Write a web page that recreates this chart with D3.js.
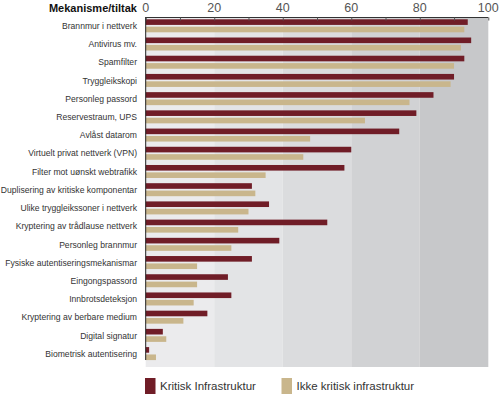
<!DOCTYPE html>
<html>
<head>
<meta charset="utf-8">
<script src="https://cdn.jsdelivr.net/npm/d3@7"></script>
<style>
  body { margin: 0; background: #fff; }
  text { font-family: "Liberation Sans", Arial, sans-serif; }
</style>
</head>
<body>
<svg id="chart" width="500" height="395"></svg>
<script>
var categories = ["Brannmur i nettverk", "Antivirus mv.", "Spamfilter", "Tryggleikskopi",
    "Personleg passord", "Reservestraum, UPS", "Avlåst datarom", "Virtuelt privat nettverk (VPN)",
    "Filter mot uønskt webtrafikk", "Duplisering av kritiske komponentar", "Ulike tryggleikssoner i nettverk",
    "Kryptering av trådlause nettverk", "Personleg brannmur", "Fysiske autentiseringsmekanismar",
    "Eingongspassord", "Innbrotsdeteksjon", "Kryptering av berbare medium", "Digital signatur",
    "Biometrisk autentisering"];
var kritisk = [94, 95, 93, 90, 84, 79, 74, 60, 58, 31, 36, 53, 39, 31, 24, 25, 18, 5, 1];
var ikkeKritisk = [93, 92, 90, 89, 77, 64, 48, 46, 35, 32, 30, 27, 25, 15, 15, 14, 11, 6, 3];
var seriesNames = ["Kritisk Infrastruktur", "Ikke kritisk infrastruktur"];
var tickValues = [0, 20, 40, 60, 80, 100];

var colours = ["#701d27", "#c9b68c"];
var bandColours = ["#ebebed", "#e3e4e6", "#dbdcde", "#d1d2d4", "#c7c8ca"];

var svg = d3.select("#chart");

var x = d3.scaleLinear().domain([0, 100]).range([145.7, 488.3]);

var y0 = d3.scaleBand()
    .domain(categories)
    .range([17.5, 363.5]);

var y1 = d3.scaleBand()
    .domain([0, 1])
    .range([1.8, 14.8])
    .paddingInner(0.24);

var data = categories.map(function(c, i) {
    return { name: c, values: [kritisk[i], ikkeKritisk[i]] };
});

// background bands every 20
svg.append("g")
    .selectAll("rect")
    .data(d3.range(0, 100, 20))
    .enter().append("rect")
    .attr("x", function(d) { return x(d); })
    .attr("y", 17)
    .attr("width", function(d) { return x(d + 20) - x(d); })
    .attr("height", 350)
    .attr("fill", function(d, i) { return bandColours[i]; });

// bars
var groups = svg.append("g")
    .selectAll("g")
    .data(data)
    .enter().append("g")
    .attr("transform", function(d) { return "translate(0," + y0(d.name) + ")"; });

groups.selectAll("rect")
    .data(function(d) { return d.values; })
    .enter().append("rect")
    .attr("x", x(0))
    .attr("y", function(d, i) { return y1(i); })
    .attr("width", function(d) { return x(d) - x(0); })
    .attr("height", y1.bandwidth())
    .attr("fill", function(d, i) { return colours[i]; });

// category labels
svg.append("g")
    .selectAll("text")
    .data(categories)
    .enter().append("text")
    .attr("x", 137)
    .attr("y", function(d) { return y0(d) + 11.5; })
    .attr("text-anchor", "end")
    .attr("font-size", "8.6px")
    .attr("fill", "#333")
    .text(function(d) { return d; });

// top axis
var axis = svg.append("g")
    .attr("transform", "translate(0,17.5)")
    .call(d3.axisTop(x).tickValues(d3.range(0, 101, 10)).tickSize(-3).tickFormat(""));
axis.select(".domain").attr("stroke", "#333").attr("d", "M" + x(0) + ",0H" + x(100));
axis.selectAll(".tick line").attr("stroke", "#555");

svg.append("g")
    .selectAll("text")
    .data(tickValues)
    .enter().append("text")
    .attr("x", function(d) { return x(d); })
    .attr("y", 12)
    .attr("text-anchor", "middle")
    .attr("font-size", "12.5px")
    .attr("fill", "#555")
    .text(function(d) { return d; });

// left axis line
svg.append("line")
    .attr("x1", x(0)).attr("x2", x(0))
    .attr("y1", 17).attr("y2", 360)
    .attr("stroke", "#222");

// title
svg.append("text")
    .attr("x", 137)
    .attr("y", 12)
    .attr("text-anchor", "end")
    .attr("font-size", "11px")
    .attr("font-weight", "bold")
    .attr("fill", "#111")
    .text("Mekanisme/tiltak");

// legend
var legend = svg.append("g")
    .selectAll("g")
    .data(seriesNames)
    .enter().append("g")
    .attr("transform", function(d, i) { return "translate(" + (145 + i * 136.5) + ",378)"; });

legend.append("rect")
    .attr("width", 10.5)
    .attr("height", 16)
    .attr("fill", function(d, i) { return colours[i]; });

legend.append("text")
    .attr("x", 15)
    .attr("y", 12)
    .attr("font-size", "11.5px")
    .attr("fill", "#333")
    .text(function(d) { return d; });
</script>
</body>
</html>
